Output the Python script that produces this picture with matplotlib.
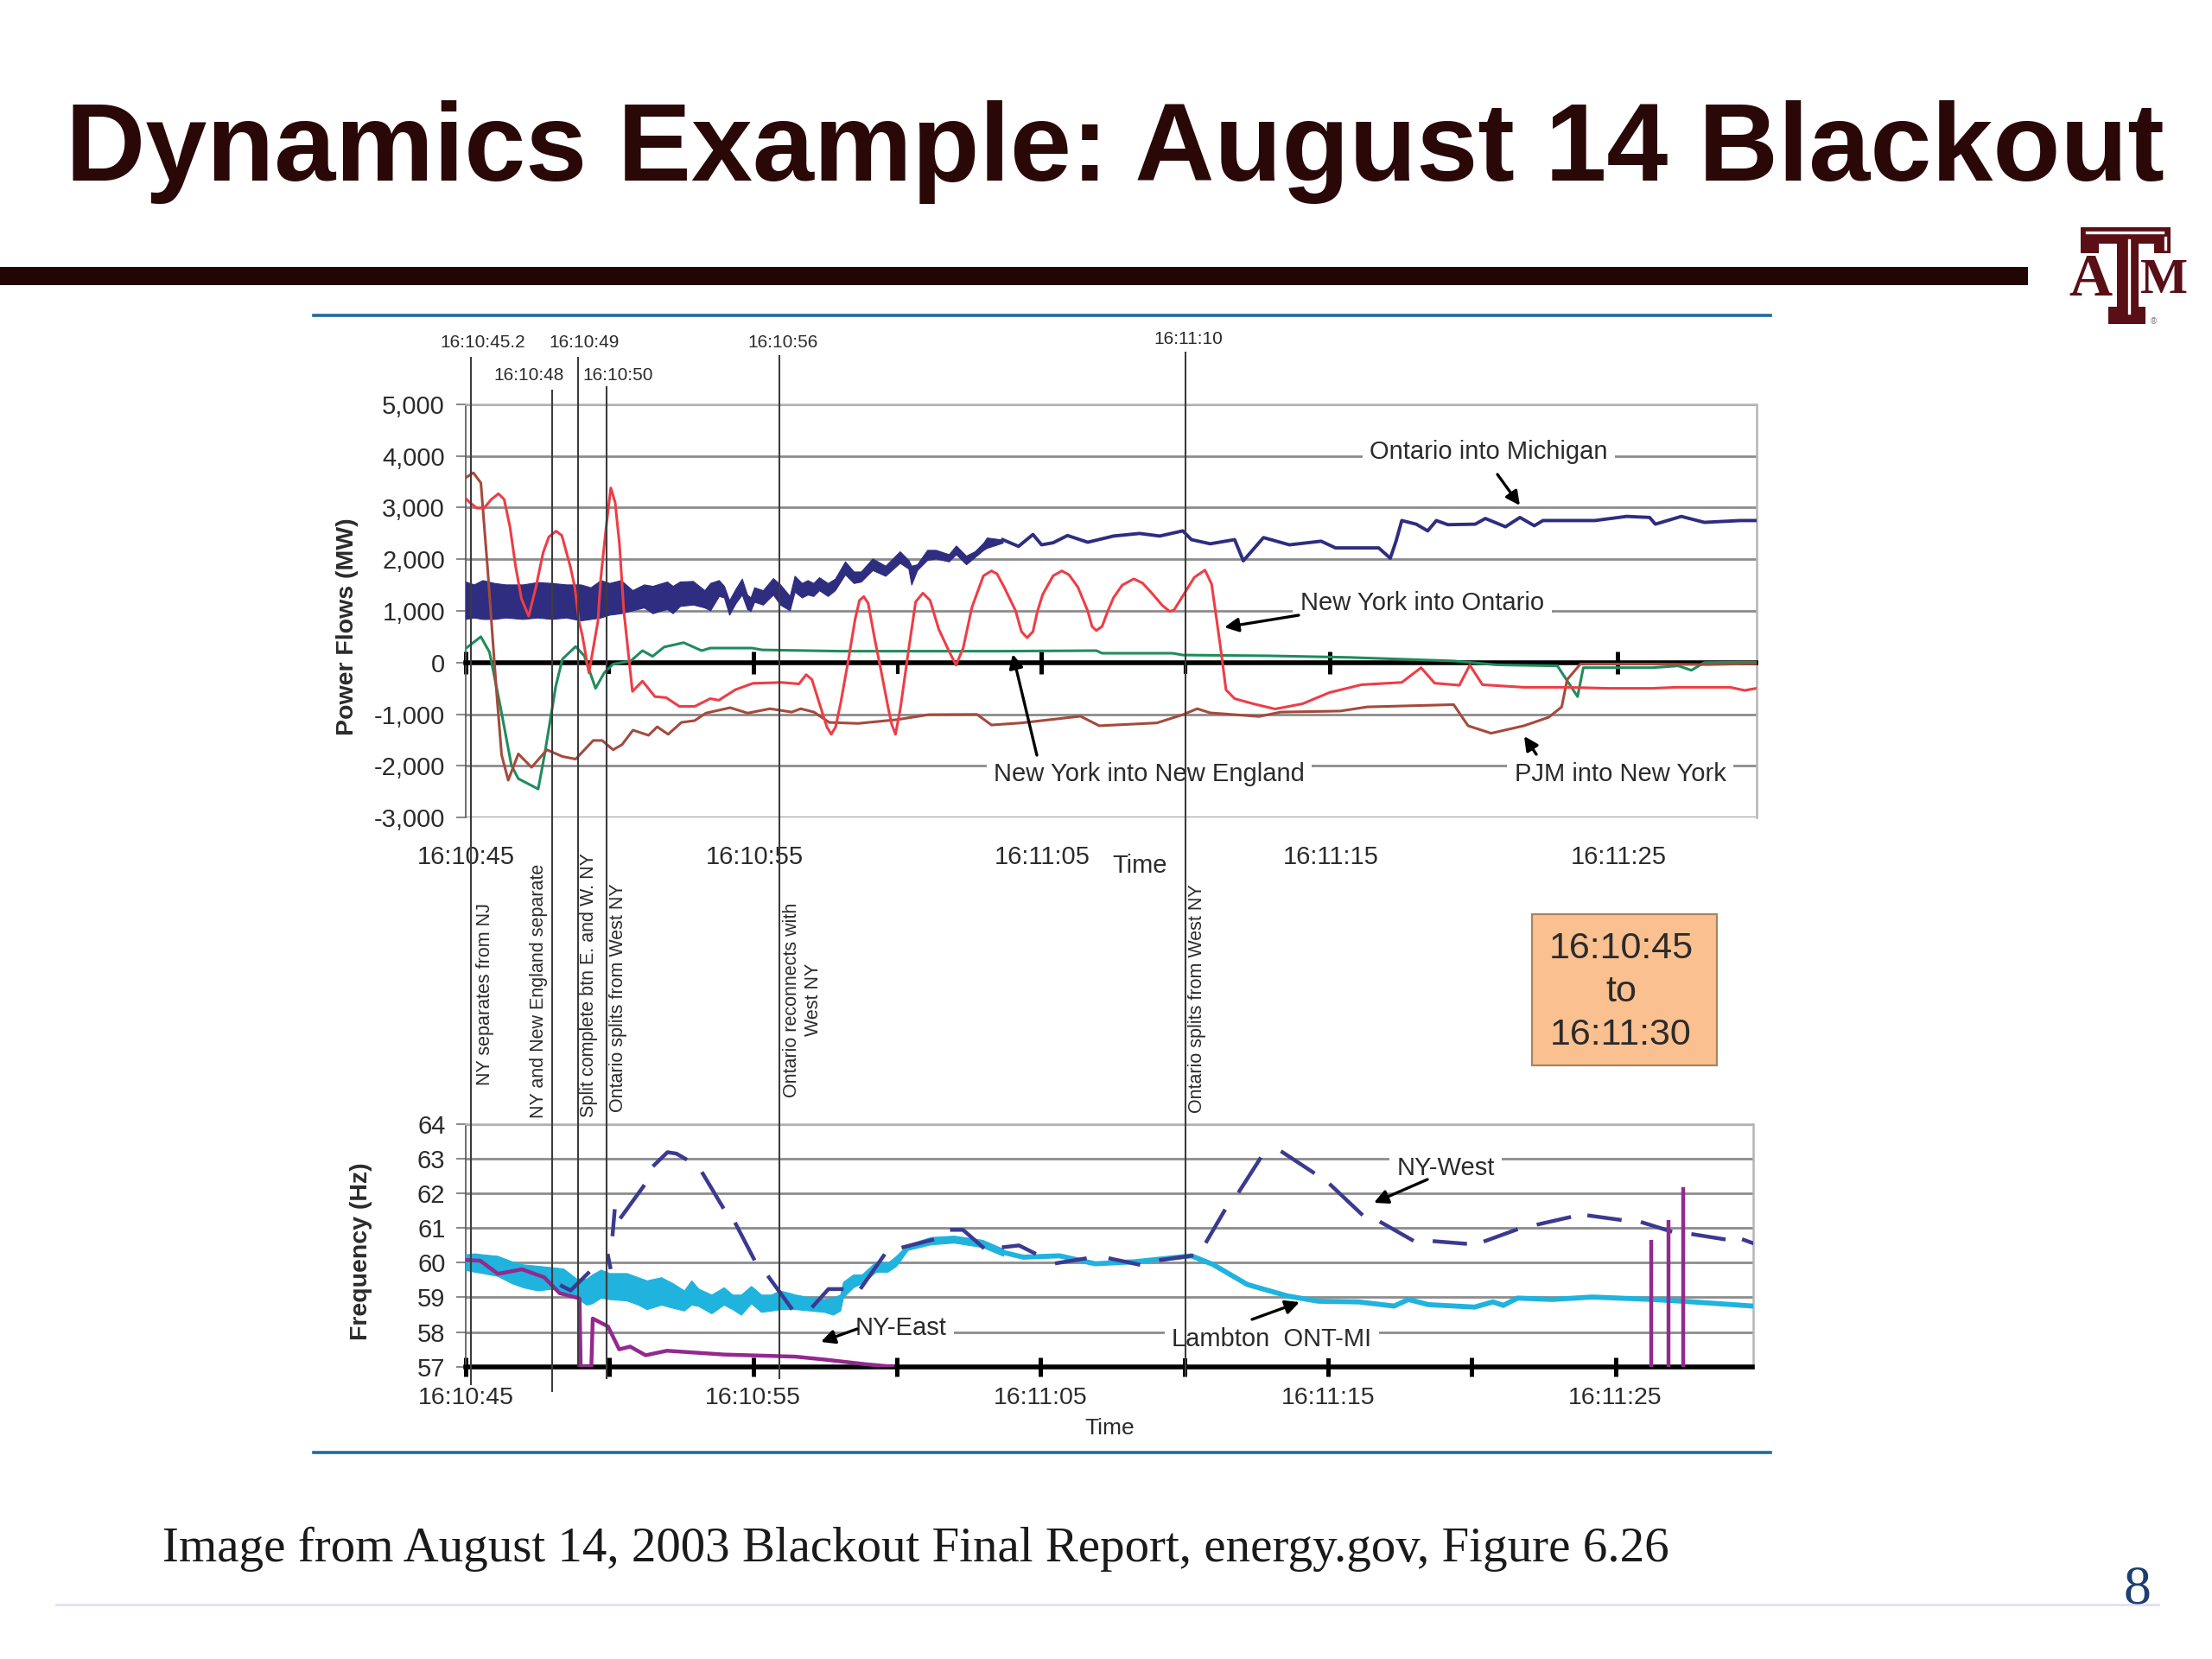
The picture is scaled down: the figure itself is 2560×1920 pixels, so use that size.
import matplotlib
matplotlib.use("Agg")
import matplotlib.pyplot as plt
from matplotlib.patches import Rectangle

plt.rcParams['font.family'] = ['Liberation Sans', 'DejaVu Sans']

W, H = 2560, 1920
GAP = float("nan")

# time is seconds after 16:10:45
# Ontario into Michigan: thick noisy part kept as an envelope, then a plain line
mi_band_t = [0, 0.3, 0.6, 1, 1.4, 2, 2.5, 3, 3.5, 4, 4.35, 4.7, 5, 5.4, 5.8, 6.2, 6.5, 7, 7.2, 7.45, 7.9, 8.3, 8.5, 8.8,
             8.98, 9.16, 9.38, 9.6, 9.78, 9.9, 10.03, 10.33, 10.68, 10.93, 11.26, 11.43, 11.68, 11.88, 12.08, 12.28, 12.58, 12.83, 13.18, 13.48, 13.73, 14.13, 14.58, 15.08, 15.38, 15.48, 15.68, 16.03, 16.33, 16.78, 17.03, 17.38, 17.68, 17.98, 18.1, 18.65]
mi_band_low = [843, 871, 843, 843, 871, 843, 871, 843, 871, 815, 843, 871, 926, 954, 1010, 1066, 954, 1038, 954, 1094, 1122, 1066, 1010, 1289,
               1260, 926, 1149, 1316, 1037, 998, 1177, 1121, 1316, 1121, 1009, 1372, 1260, 1316, 1288, 1400, 1288, 1400, 1707, 1539, 1567, 1790, 1679, 1930, 1818, 1511, 1790, 1986, 2014, 1958, 2097, 1902, 2041, 2181, 2220, 2320]
mi_band_high = [1568, 1512, 1596, 1540, 1512, 1512, 1557, 1540, 1512, 1512, 1456, 1596, 1540, 1596, 1401, 1512, 1484, 1568, 1484, 1568, 1579, 1401, 1540, 1596,
                1483, 1204, 1428, 1623, 1316, 1260, 1456, 1400, 1634, 1511, 1288, 1679, 1539, 1595, 1539, 1651, 1539, 1623, 1958, 1762, 1762, 2014, 1874, 2153, 1986, 1874, 1902, 2181, 2181, 2097, 2265, 2069, 2153, 2320, 2420, 2380]
mi_t = [18.65, 19.2, 19.7, 20, 20.4, 20.9, 21.6, 22.5, 23.4, 24.1, 24.9, 25.2, 25.85, 26.7, 27, 27.7, 28.6, 29.7, 30.2, 31.7, 32.1, 32.3, 32.5, 33, 33.4, 33.7, 34.1, 35.05, 35.4, 36.1, 36.6, 37.1, 37.4, 39.2, 40.3, 41.1, 41.3, 42.2, 43, 44.25, 44.8]
mi_mw = [2380, 2250, 2480, 2280, 2320, 2460, 2330, 2450, 2500, 2450, 2550, 2380, 2300, 2380, 1970, 2420, 2280, 2350, 2220, 2220, 2020, 2350, 2750, 2680, 2550, 2750, 2670, 2680, 2790, 2630, 2810, 2650, 2750, 2750, 2830, 2810, 2680, 2830, 2715, 2750, 2750]

# New York into Ontario
ont_t = [0, 0.15, 0.4, 0.65, 0.9, 1.15, 1.35, 1.55, 1.75, 1.95, 2.2, 2.45, 2.7, 2.9, 3.15, 3.35, 3.65, 3.8, 3.95, 4.06, 4.29, 4.6, 4.7, 4.9, 5.05, 5.2, 5.35, 5.5, 5.8, 6.15, 6.58, 6.97, 7.43, 7.96, 8.5, 8.8,
         8.98, 9.38, 9.98, 10.98, 11.58, 11.83, 12.03, 12.28, 12.55, 12.7, 12.85, 13.03, 13.28, 13.53, 13.68, 13.83, 13.98, 14.23, 14.43, 14.68, 14.8, 14.93, 15.1, 15.38, 15.63, 15.88, 16.13, 16.43, 16.78, 17.03, 17.28, 17.58, 17.98, 18.26,
         18.45, 18.7, 19.1, 19.3, 19.5, 19.7, 19.85, 20.04, 20.4, 20.7, 20.95, 21.26, 21.6, 21.75, 21.9, 22.1, 22.3, 22.5, 22.8, 23.2, 23.5, 23.8, 24.2, 24.45, 24.6, 24.9, 25.3, 25.67, 25.9, 26.2, 26.4, 26.7, 27.35, 28.1, 29.05, 30, 31.1, 32.5, 33.17, 33.64, 34.5, 34.86, 35.3, 36.74, 38.2, 39.7, 41.2, 42, 43.9, 44.4, 44.8]
ont_mw = [3186, 3103, 2991, 2991, 3158, 3270, 3158, 2628, 1847, 1233, 899, 1457, 2126, 2433, 2545, 2461, 1847, 1457, 787, 530, -200, 787, 1624, 2684, 3382, 3103, 2294, 1010, -560, -360, -660, -680, -850, -850, -700, -730,
          -665, -525, -403, -386, -414, -235, -330, -776, -1250, -1390, -1250, -776, 5, 842, 1204, 1277, 1149, 395, -163, -888, -1200, -1390, -888, 228, 1177, 1344, 1204, 647, 228, -51, 284, 1065, 1679, 1775,
          1720, 1460, 1000, 600, 480, 600, 980, 1320, 1680, 1775, 1700, 1460, 1000, 700, 620, 700, 1000, 1260, 1500, 1620, 1540, 1360, 1100, 990, 1020, 1290, 1650, 1790, 1520, 330, -530, -700, -800, -900, -800, -580, -430, -385, -100, -400, -440, -50, -430, -480, -480, -500, -500, -480, -480, -540, -500]

# PJM into New York
pjm_t = [0, 0.28, 0.54, 0.77, 1.07, 1.26, 1.49, 1.84, 2.3, 2.83, 3.37, 3.83, 4.44, 4.75, 5.13, 5.44, 5.82, 6.36, 6.66, 7.04, 7.5, 7.96, 8.35, 9.19, 9.8, 10.57, 11.33, 11.64, 12.1, 12.63, 13.63, 15, 16.08, 17.76, 18.26, 19.3, 21.35, 22, 24, 24.9, 25.4, 25.85, 27.55, 28.3, 30.36, 31.3, 34.3, 34.8, 35.6, 36.74, 37.6, 38.05, 38.24, 38.7, 41.2, 43.1, 44.8]
pjm_mw = [3575, 3675, 3480, 1850, -460, -1790, -2280, -1770, -2030, -1690, -1820, -1870, -1510, -1510, -1690, -1590, -1310, -1410, -1245, -1390, -1160, -1125, -980, -875, -980, -895, -960, -895, -960, -1160, -1180, -1105, -1010, -1005, -1210, -1170, -1040, -1225, -1170, -1010, -895, -975, -1045, -960, -940, -860, -815, -1225, -1370, -1225, -1060, -860, -330, -30, -30, -40, -20]

# New York into New England
ne_t = [0, 0.54, 0.84, 1.22, 1.6, 1.84, 2.53, 2.75, 3.14, 3.37, 3.83, 4.13, 4.52, 4.82, 5.13, 5.74, 6.15, 6.5, 6.9, 7.58, 8.2, 8.5, 9.95, 10.3, 13, 18.65, 21.9, 22.1, 24.55, 24.9, 27.9, 30.64, 34.3, 35.8, 37.9, 38.6, 38.8, 41.2, 42.1, 42.55, 43, 44.8]
ne_mw = [265, 500, 200, -860, -1990, -2250, -2450, -1790, -460, 66, 310, 130, -500, -200, -30, 30, 230, 120, 300, 385, 230, 280, 280, 245, 220, 220, 230, 180, 180, 145, 130, 100, 30, -45, -65, -660, -100, -100, -65, -150, 0, 10]

# Lambton ONT-MI frequency: band first, then a single trace
lam_band_t = [0, 0.3, 0.6, 1.1, 1.6, 2, 2.5, 3, 3.4, 3.85, 4.2, 4.4, 4.7, 5, 5.6, 6, 6.3, 6.8, 7.2, 7.6, 7.85, 8.1, 8.55,
              8.98, 9.28, 9.58, 9.93, 10.28, 10.63, 10.93, 11.48, 11.98, 12.48, 12.78, 13.03, 13.13, 13.48, 13.78, 14.28, 14.68, 14.98, 15.38, 16.18, 16.98, 17.98, 18.7]
lam_band_low = [59.79, 59.74, 59.7, 59.62, 59.41, 59.29, 59.2, 59.25, 59.12, 58.99, 58.79, 58.83, 58.99, 58.95, 58.91, 58.79, 58.66, 58.79, 58.7, 58.62, 58.79, 58.75, 58.54,
                58.79, 58.66, 58.5, 58.83, 58.58, 58.62, 58.66, 58.66, 58.62, 58.58, 58.5, 58.62, 59, 59.29, 59.41, 59.74, 59.74, 59.91, 60.37, 60.53, 60.58, 60.45, 60.2]
lam_band_high = [60.24, 60.27, 60.24, 60.2, 60.04, 59.95, 59.91, 59.87, 59.83, 59.54, 59.54, 59.66, 59.8, 59.7, 59.7, 59.58, 59.49, 59.58, 59.41, 59.2, 59.49, 59.25, 59.08,
                 59.29, 59.08, 59.08, 59.33, 59.08, 59.08, 59.2, 59.08, 59, 58.95, 59, 59.08, 59.45, 59.66, 59.66, 60.04, 60, 60.2, 60.53, 60.74, 60.78, 60.66, 60.4]
lam_t = [18.7, 19.4, 20.66, 21.9, 23.3, 25.25, 26, 27.2, 28.6, 29.66, 31.07, 32.3, 32.8, 33.5, 35.1, 35.74, 36.1, 36.6, 37.8, 39.2, 41.3, 42.7, 44.78]
lam_hz = [60.3, 60.16, 60.2, 59.97, 60.03, 60.2, 59.95, 59.37, 59.04, 58.89, 58.87, 58.75, 58.94, 58.79, 58.72, 58.87, 58.77, 58.98, 58.94, 59.01, 58.94, 58.87, 58.75]

# NY-West frequency, gaps are the gaps of the dashed trace
nyw_t = [3.34, 3.65, 4.26, 4.3, 4.95, 5.03, 5.07, 5.11, 5.18, 5.3, 5.41, 6.18, 6.4, 6.56, 7.02, 7.33, 7.64, 7.9, 8.25, 8.94, 9.2, 9.4, 10.02, 10.3, 10.55, 11.32, 11.7, 12.09, 12.62, 13.08, 13.4, 13.77, 14.54, 14.9, 15.23, 16.23, 16.6, 16.92, 17.3, 17.99, 18.4,
         18.72, 19.25, 19.78, 20.2, 20.57, 21.54, 22, 22.43, 23.4, 23.8, 24.19, 25.25, 25.5, 25.78, 26.39, 26.7, 26.92, 27.63, 28, 28.42, 29.48, 29.8, 30.1, 31.16, 31.5, 31.86, 32.92, 33.3, 33.71, 34.77, 35.1, 35.48, 36.54, 36.9, 37.33, 38.39, 38.7, 39.09, 40.15, 40.5, 40.95, 41.91, 42.3, 42.71, 43.77, 44.1, 44.47, 44.77]
nyw_hz = [59.33, 59.2, 59.7, GAP, 60.2, 59.87, GAP, 60.82, 61.49, GAP, 61.32, 62.2, GAP, 62.82, 63.19, 63.15, 63, GAP, 62.57, 61.61, GAP, 61.11, 60.12, GAP, 59.58, 58.7, GAP, 58.75, 59.24, 59.24, GAP, 59.29, 60.2, GAP, 60.45, 60.66, GAP, 60.95, 60.95, 60.45, GAP,
          60.45, 60.5, 60.28, GAP, 59.99, 60.12, GAP, 60.12, 59.95, GAP, 60.08, 60.2, GAP, 60.62, 61.49, GAP, 62.07, 62.99, GAP, 63.19, 62.61, GAP, 62.24, 61.41, GAP, 61.16, 60.66, GAP, 60.62, 60.55, GAP, 60.63, 60.95, GAP, 61.11, 61.31, GAP, 61.36, 61.24, GAP, 61.16, 60.91, GAP, 60.82, 60.68, GAP, 60.66, 60.57]

# NY-East frequency
nye_t = [0, 0.5, 1.12, 1.96, 2.73, 3.27, 3.96, 4.0, 4.37, 4.42, 4.95, 5.34, 5.72, 6.26, 7, 9, 11.47, 12.55, 13.93, 14.85]
nye_hz = [60.08, 60.06, 59.68, 59.81, 59.58, 59.12, 58.97, 57, 57, 58.39, 58.16, 57.5, 57.58, 57.33, 57.46, 57.35, 57.29, 57.2, 57.07, 57]
spike_t = [41.26, 41.85, 42.35]
spike_hz = [60.66, 61.24, 62.17]

event_t = [0.2, 3.0, 3.9, 4.9, 10.9, 25.0]
event_labels = ["16:10:45.2", "16:10:48", "16:10:49", "16:10:50", "16:10:56", "16:11:10"]

power_ticks = [5000, 4000, 3000, 2000, 1000, 0, -1000, -2000, -3000]
power_labels = ["5,000", "4,000", "3,000", "2,000", "1,000", "0", "-1,000", "-2,000", "-3,000"]
freq_ticks = [64, 63, 62, 61, 60, 59, 58, 57]
time_ticks = [0, 10, 20, 30, 40]
time_labels = ["16:10:45", "16:10:55", "16:11:05", "16:11:15", "16:11:25"]

NAVY = "#2e2d80"
RED = "#ee3d46"
BROWN = "#a54a3c"
GREEN = "#1f8c5c"
CYAN = "#1fb3de"
PURPLE = "#93298f"
GRID = "#8c8c8c"
TEXT = "#2b2b2b"
MAROON = "#5a0f16"


def axes_at(fig, left, top, right, bottom, **kw):
    # pixel box to figure fractions
    return fig.add_axes([left / W, 1 - bottom / H, (right - left) / W, (bottom - top) / H], **kw)


def style_axes(ax):
    ax.set_facecolor("none")
    ax.grid(axis="y", color=GRID, lw=2.0)
    ax.set_axisbelow(True)
    ax.spines["top"].set_color("#b5b5b5")
    ax.spines["right"].set_color("#b5b5b5")
    ax.spines["top"].set_linewidth(1.8)
    ax.spines["right"].set_linewidth(1.8)
    ax.spines["left"].set_color("#555555")
    ax.spines["left"].set_linewidth(1.2)
    ax.spines["bottom"].set_linewidth(4)
    ax.tick_params(axis="y", length=8, width=1.5, color=GRID, pad=9, labelsize=21, labelcolor=TEXT)


fig = plt.figure(figsize=(W / 100, H / 100), dpi=100, facecolor="white")

# slide furniture, in pixels
bg = fig.add_axes([0, 0, 1, 1], zorder=0)
bg.set_xlim(0, W)
bg.set_ylim(H, 0)
bg.axis("off")
bg.text(1290, 176, "Dynamics Example: August 14 Blackout", ha="center", va="center",
        fontsize=92, fontweight="bold", color="#2a0808")
bg.add_patch(Rectangle((0, 309), 2347, 21, color="#220505", lw=0))
bg.plot([363, 2049], [365, 365], color="#1f6aa0", lw=2.6)
bg.plot([363, 2049], [1681, 1681], color="#1f6aa0", lw=2.6)
bg.plot([65, 2498], [1857, 1857], color="#e6dcf5", lw=2)
bg.text(188, 1793, "Image from August 14, 2003 Blackout Final Report, energy.gov, Figure 6.26",
        family="Liberation Serif", fontsize=41, va="center", color="#1a1a1a")
bg.text(2474, 1840, "8", family="Liberation Serif", fontsize=46, ha="center", va="center", color="#1c3f73")

# logo: the big T is drawn as a shape, A and M stay text
for x, y, w, h in [(2408, 263, 104, 19), (2408, 282, 21, 11), (2493, 282, 19, 11), (2450, 282, 25, 73), (2440, 355, 43, 20)]:
    bg.add_patch(Rectangle((x, y), w, h, color=MAROON, lw=0))
bg.plot([2415, 2503], [269, 269], color="white", lw=2.4)
bg.plot([2464, 2464], [278, 362], color="white", lw=2.4)
bg.plot([2506, 2506], [275, 288], color="white", lw=2.4)
bg.text(2419, 325, "A", family="Liberation Serif", fontweight="bold", fontsize=50, ha="center", va="center", color=MAROON)
bg.text(2505, 325, "M", family="Liberation Serif", fontweight="bold", fontsize=42, ha="center", va="center", color=MAROON)
bg.text(2492, 372, "®", fontsize=7, ha="center", va="center", color="#777777")

bg.add_patch(Rectangle((1773, 1058), 214, 175, facecolor="#fac090", edgecolor="#a8845f", lw=1.6))
bg.text(1876, 1148, "16:10:45\nto\n16:11:30", ha="center", va="center", fontsize=31, color=TEXT, linespacing=1.33)

# power flows
ax1 = axes_at(fig, 538.5, 468, 2032.5, 946, zorder=1)
style_axes(ax1)
ax1.set_xlim(0, 44.8)
ax1.set_ylim(-3000, 5000)
ax1.set_yticks(power_ticks, power_labels)
ax1.spines["bottom"].set_position(("data", 0))
ax1.set_xticks(time_ticks, [""] * 5)
ax1.set_xticks([5, 15, 25], minor=True)
ax1.tick_params(axis="x", which="major", direction="inout", length=19, width=3.6)
ax1.tick_params(axis="x", which="minor", direction="out", length=9, width=3)
ax1.fill_between(mi_band_t, mi_band_low, mi_band_high, color=NAVY, lw=0.8, zorder=3)
ax1.plot(mi_t, mi_mw, color=NAVY, lw=2.8, zorder=3, solid_joinstyle="round")
ax1.plot(ne_t, ne_mw, color=GREEN, lw=2.2, zorder=4, solid_joinstyle="round")
ax1.plot(pjm_t, pjm_mw, color=BROWN, lw=2.2, zorder=4, solid_joinstyle="round")
ax1.plot(ont_t, ont_mw, color=RED, lw=2.2, zorder=5, solid_joinstyle="round")
for t, lab in zip(time_ticks, time_labels):
    ax1.text(t + 0.03, -0.096, lab, transform=ax1.get_xaxis_transform(), ha="center", va="center",
             fontsize=21, color=TEXT)

# frequency
ax2 = axes_at(fig, 539, 1301, 2028.5, 1581.7, zorder=2)
style_axes(ax2)
ax2.set_xlim(0, 44.78)
ax2.set_ylim(57, 64)
ax2.set_yticks(freq_ticks)
ax2.set_xticks(list(range(0, 45, 5)), [time_labels[i // 10] if i % 10 == 0 else "" for i in range(0, 45, 5)])
ax2.tick_params(axis="x", direction="inout", length=16, width=3.6, pad=9, labelsize=20.5, labelcolor=TEXT)
ax2.fill_between(lam_band_t, lam_band_low, lam_band_high, color=CYAN, lw=0.8, zorder=3)
ax2.plot(lam_t, lam_hz, color=CYAN, lw=4.2, zorder=3, solid_joinstyle="round")
ax2.plot(nyw_t, nyw_hz, color="#3b3a90", lw=3.2, zorder=4, solid_joinstyle="round")
ax2.plot(nye_t, nye_hz, color=PURPLE, lw=3.2, zorder=4, solid_joinstyle="round")
ax2.vlines(spike_t, 57, spike_hz, color=PURPLE, lw=3.2, zorder=4)

# labels and arrows, in pixels
top = fig.add_axes([0, 0, 1, 1], zorder=5)
top.set_xlim(0, W)
top.set_ylim(H, 0)
top.axis("off")
top.patch.set_alpha(0)

top.text(402, 725, "Power Flows (MW)", rotation=90, ha="center", va="center", fontsize=20.5, fontweight="bold", color=TEXT)
top.text(418, 1448, "Frequency (Hz)", rotation=90, ha="center", va="center", fontsize=20.5, fontweight="bold", color=TEXT)
top.text(1319, 1002, "Time", ha="center", va="center", fontsize=21, color=TEXT)
top.text(1284, 1653, "Time", ha="center", va="center", fontsize=19, color=TEXT)

white = dict(facecolor="white", edgecolor="none", pad=6)
for x, y, lab in [(1723, 523, "Ontario into Michigan"), (1646, 698, "New York into Ontario"),
                  (1330, 896, "New York into New England"), (1875, 896, "PJM into New York"),
                  (1043, 1537, "NY-East"), (1673, 1352, "NY-West"), (1472, 1550, "Lambton  ONT-MI")]:
    top.text(x, y, lab, ha="center", va="center", fontsize=21, color=TEXT, bbox=white)

for start, end in [((1733, 549), (1759, 585)), ((1503, 712), (1417, 726)), ((1200, 874), (1172, 757)),
                   ((1778, 873), (1764, 852)), ((992, 1538), (950, 1553)), ((1652, 1365), (1590, 1392)),
                   ((1449, 1527), (1504, 1507))]:
    top.annotate("", xy=end, xytext=start,
                 arrowprops=dict(arrowstyle="-|>", color="black", lw=2.4, mutation_scale=24, shrinkA=0, shrinkB=0))

for x, y, lab in [(562, 1151, "NY separates from NJ"), (624, 1147, "NY and New England separate"),
                  (682, 1140, "Split complete btn E. and W. NY"), (715, 1155, "Ontario splits from West NY"),
                  (929, 1157, "Ontario reconnects with\nWest NY"), (1385, 1156, "Ontario splits from West NY")]:
    top.text(x, y, lab, rotation=90, ha="center", va="center", fontsize=15.5, color=TEXT, linespacing=1.2)

for x, y, lab in zip([559, 612, 676, 715, 906, 1375], [396, 435, 396, 435, 396, 393], event_labels):
    top.text(x, y, lab, ha="center", va="center", fontsize=15, color=TEXT)

# event lines run through both charts
ev = axes_at(fig, 538.5, 0, 2032.5, H, zorder=6)
ev.set_xlim(0, 44.8)
ev.set_ylim(H, 0)
ev.axis("off")
ev.patch.set_alpha(0)
ev.vlines(event_t, [413, 451, 413, 447, 411, 407], [1603, 1611, 1582, 1596, 1596, 1593], color="#3c3c3c", lw=1.5)

fig.savefig("out.png", dpi=100)
